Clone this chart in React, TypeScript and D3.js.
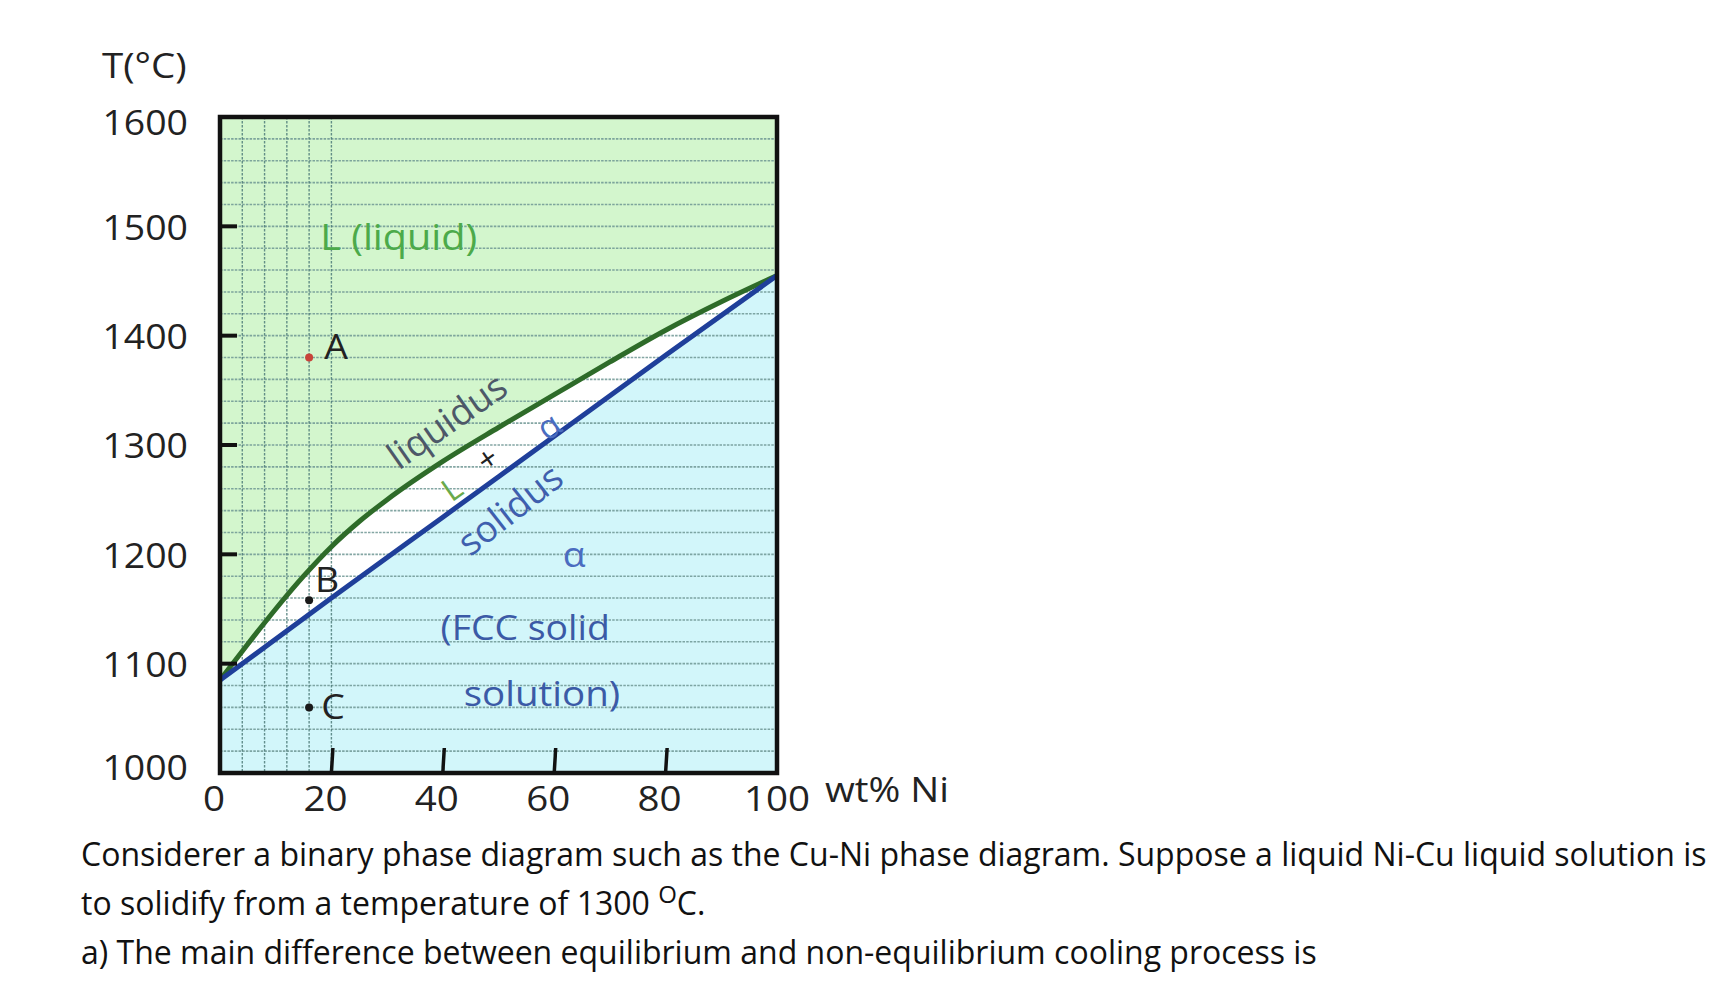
import React from 'react';
import * as d3 from 'd3';

// ── Data ──────────────────────────────────────────────────────────────────────
const LIQUIDUS: [number, number][] = [
  [0, 1085], [5, 1118], [10, 1150], [15, 1180], [20, 1207], [25, 1230],
  [30, 1250], [40, 1285], [50, 1316], [60, 1346], [70, 1376], [80, 1405],
  [90, 1431], [100, 1455],
];
const SOLIDUS: [number, number][] = [
  [0, 1085], [20, 1160], [40, 1234], [60, 1308], [80, 1382], [100, 1455],
];
const Y_TICKS = [1000, 1100, 1200, 1300, 1400, 1500, 1600];
const Y_MARKS = [1100, 1200, 1300, 1400, 1500];
const X_TICKS = [0, 20, 40, 60, 80, 100];
const X_MARKS = [20, 40, 60, 80];
const V_GRID = [4, 8, 12, 16, 20];
const H_GRID = d3.range(1020, 1600, 20);

const POINTS = [
  { name: 'A', wt: 16, t: 1380, color: '#c8443a', dx: 27, dy: -12 },
  { name: 'B', wt: 16, t: 1158, color: '#1a1a1a', dx: 18, dy: -22 },
  { name: 'C', wt: 16, t: 1060, color: '#1a1a1a', dx: 24, dy: -2 },
];

const FONT = '"Open Sans", "DejaVu Sans", sans-serif';
const SX = 1.1; // the source image is a little stretched sideways

export default function App() {
  const x = d3.scaleLinear().domain([0, 100]).range([220, 777]);
  const y = d3.scaleLinear().domain([1000, 1600]).range([773, 117]);

  const line = d3.line<[number, number]>()
    .x(d => x(d[0])).y(d => y(d[1]))
    .curve(d3.curveMonotoneX);

  const liquidArea = d3.area<[number, number]>()
    .x(d => x(d[0])).y0(y(1600)).y1(d => y(d[1]))
    .curve(d3.curveMonotoneX);

  const solidArea = d3.area<[number, number]>()
    .x(d => x(d[0])).y0(d => y(d[1])).y1(y(1000))
    .curve(d3.curveMonotoneX);

  const at = (wt: number, t: number) => `translate(${x(wt)},${y(t)})`;
  const wide = (px: number, py: number) => `translate(${px},${py}) scale(${SX},1)`;

  return (
    <svg width={1732} height={1002} style={{ position: 'absolute', left: 0, top: 0, background: '#fff' }}
      fontFamily={FONT}>
      {/* plot background & phase regions */}
      <rect x={x(0)} y={y(1600)} width={x(100) - x(0)} height={y(1000) - y(1600)} fill="#ffffff" />
      <path d={liquidArea(LIQUIDUS) || ''} fill="#d3f6cd" />
      <path d={solidArea(SOLIDUS) || ''} fill="#d2f6fa" />

      {/* grid */}
      {H_GRID.map(t => (
        <line key={'h' + t} x1={x(0)} x2={x(100)} y1={y(t)} y2={y(t)}
          stroke="#6f9794" strokeWidth={1.6} strokeDasharray="2.5 1.2" opacity={0.85} />
      ))}
      {V_GRID.map(v => (
        <line key={'v' + v} x1={x(v)} x2={x(v)} y1={y(1600)} y2={y(1000)}
          stroke="#4f7d7a" strokeWidth={1.4} strokeDasharray="2.5 1.5" opacity={0.85} />
      ))}

      {/* liquidus / solidus */}
      <path d={line(LIQUIDUS) || ''} fill="none" stroke="#2e6b29" strokeWidth={5} />
      <path d={line(SOLIDUS) || ''} fill="none" stroke="#1f3f9a" strokeWidth={5} />

      {/* frame */}
      <rect x={x(0)} y={y(1600)} width={x(100) - x(0)} height={y(1000) - y(1600)}
        fill="none" stroke="#111" strokeWidth={4.5} />

      {/* ticks */}
      {Y_MARKS.map(t => (
        <line key={'yt' + t} x1={x(0)} x2={x(0) + 17} y1={y(t)} y2={y(t)} stroke="#111" strokeWidth={4} />
      ))}
      {X_MARKS.map(v => (
        <line key={'xt' + v} x1={x(v)} x2={x(v) + 1.5} y1={y(1000)} y2={y(1000) - 25} stroke="#111" strokeWidth={3.5} />
      ))}

      {/* axis labels */}
      {Y_TICKS.map(t => (
        <text key={'yl' + t} transform={wide(188, Math.min(Math.max(y(t), y(1600) + 5), y(1000) - 6))}
          textAnchor="end" dominantBaseline="central" fontSize={34} fill="#222">{t}</text>
      ))}
      {X_TICKS.map(v => (
        <text key={'xl' + v} transform={wide(x(v) - (v === 100 ? 0 : 6), 798)}
          textAnchor="middle" dominantBaseline="central" fontSize={35} fill="#222">{v}</text>
      ))}
      <text transform={wide(102, 78)} fontSize={35} fill="#222">T(°C)</text>
      <text transform={wide(825, 802)} fontSize={35} fill="#222">wt% Ni</text>

      {/* region annotations */}
      <text transform={wide(x(18), y(1478))} fontSize={36} fill="#4caa4a">L (liquid)</text>
      <text transform={`${at(40.6, 1323)} rotate(-35)`} textAnchor="middle" dominantBaseline="central"
        fontSize={37} fill="#4d5868">liquidus</text>
      <text transform={`${at(41.5, 1261)} rotate(-35)`} textAnchor="middle" dominantBaseline="central"
        fontSize={32} fill="#6aaa4c">L</text>
      <text transform={`${at(47.9, 1288)} rotate(-35)`} textAnchor="middle" dominantBaseline="central"
        fontSize={32} fill="#222">+</text>
      <text transform={`${at(58.9, 1318)} rotate(-35)`} textAnchor="middle" dominantBaseline="central"
        fontSize={34} fill="#4a6cc0">α</text>
      <text transform={`${at(51.9, 1242)} rotate(-38)`} textAnchor="middle" dominantBaseline="central"
        fontSize={37} fill="#3f5fae">solidus</text>
      <text transform={wide(x(63.6), y(1201))} textAnchor="middle" dominantBaseline="central"
        fontSize={34} fill="#4a6cc0">α</text>
      <text transform={wide(x(54.8), y(1122))} textAnchor="middle" fontSize={34} fill="#3b5aa6">(FCC solid</text>
      <text transform={wide(x(57.8), y(1061))} textAnchor="middle" fontSize={35} fill="#3b5aa6">solution)</text>

      {/* points */}
      {POINTS.map(p => (
        <g key={p.name}>
          <circle cx={x(p.wt)} cy={y(p.t)} r={4} fill={p.color} />
          <text transform={wide(x(p.wt) + p.dx, y(p.t) + p.dy)} textAnchor="middle" dominantBaseline="central"
            fontSize={34} fill="#222">{p.name}</text>
        </g>
      ))}

      {/* question text */}
      <g fontSize={32} fill="#111">
        <text x={81} y={866}>Considerer a binary phase diagram such as the Cu-Ni phase diagram. Suppose a liquid Ni-Cu liquid solution is</text>
        <text x={81} y={915}>to solidify from a temperature of 1300 <tspan fontSize={24} dy={-12}>O</tspan><tspan dy={12}>C.</tspan></text>
        <text x={81} y={964}>a) The main difference between equilibrium and non-equilibrium cooling process is</text>
      </g>
    </svg>
  );
}
